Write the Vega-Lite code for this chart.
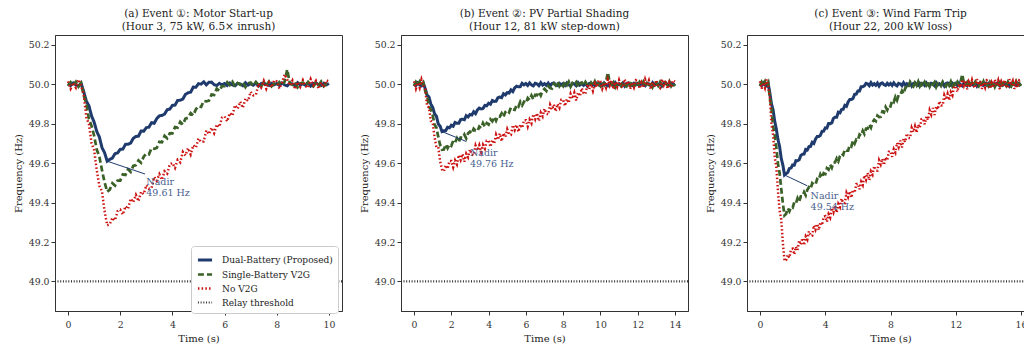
{
"$schema":"https://vega.github.io/schema/vega-lite/v6.json",
"padding":{"left":12,"top":8,"right":0,"bottom":0},
"bounds":"flush",
"spacing":59,
"datasets":{
"a":[
{"t":0.0,"d":50.004,"s":49.991,"n":50.015},{"t":0.1,"d":49.994,"s":50.011,"n":49.978},{"t":0.2,"d":50.007,"s":49.996,"n":50.008},{"t":0.3,"d":49.997,"s":50.013,"n":49.983},{"t":0.4,"d":49.992,"s":49.988,"n":50.024},{"t":0.5,"d":50.005,"s":50.006,"n":49.994},{"t":0.6,"d":49.963,"s":49.944,"n":49.948},{"t":0.7,"d":49.915,"s":49.902,"n":49.833},{"t":0.8,"d":49.891,"s":49.824,"n":49.798},{"t":0.9,"d":49.840,"s":49.789,"n":49.703},
{"t":1.0,"d":49.808,"s":49.739,"n":49.666},{"t":1.1,"d":49.761,"s":49.669,"n":49.565},{"t":1.2,"d":49.733,"s":49.634,"n":49.485},{"t":1.3,"d":49.679,"s":49.565,"n":49.458},{"t":1.4,"d":49.653,"s":49.503,"n":49.357},{"t":1.5,"d":49.610,"s":49.455,"n":49.285},{"t":1.6,"d":49.619,"s":49.466,"n":49.290},{"t":1.7,"d":49.626,"s":49.498,"n":49.323},{"t":1.8,"d":49.648,"s":49.486,"n":49.310},{"t":1.9,"d":49.652,"s":49.511,"n":49.357},
{"t":2.0,"d":49.670,"s":49.511,"n":49.364},{"t":2.1,"d":49.671,"s":49.543,"n":49.339},{"t":2.2,"d":49.695,"s":49.540,"n":49.381},{"t":2.3,"d":49.696,"s":49.569,"n":49.368},{"t":2.4,"d":49.702,"s":49.556,"n":49.420},{"t":2.5,"d":49.726,"s":49.586,"n":49.402},{"t":2.6,"d":49.735,"s":49.590,"n":49.439},{"t":2.7,"d":49.737,"s":49.614,"n":49.407},{"t":2.8,"d":49.763,"s":49.602,"n":49.455},{"t":2.9,"d":49.762,"s":49.633,"n":49.443},
{"t":3.0,"d":49.780,"s":49.649,"n":49.488},{"t":3.1,"d":49.783,"s":49.645,"n":49.470},{"t":3.2,"d":49.805,"s":49.676,"n":49.473},{"t":3.3,"d":49.802,"s":49.673,"n":49.529},{"t":3.4,"d":49.826,"s":49.677,"n":49.511},{"t":3.5,"d":49.840,"s":49.708,"n":49.544},{"t":3.6,"d":49.842,"s":49.706,"n":49.515},{"t":3.7,"d":49.849,"s":49.738,"n":49.559},{"t":3.8,"d":49.871,"s":49.726,"n":49.547},{"t":3.9,"d":49.874,"s":49.751,"n":49.594},
{"t":4.0,"d":49.893,"s":49.751,"n":49.601},{"t":4.1,"d":49.894,"s":49.783,"n":49.576},{"t":4.2,"d":49.918,"s":49.780,"n":49.617},{"t":4.3,"d":49.919,"s":49.809,"n":49.604},{"t":4.4,"d":49.925,"s":49.796,"n":49.657},{"t":4.5,"d":49.949,"s":49.826,"n":49.639},{"t":4.6,"d":49.957,"s":49.830,"n":49.676},{"t":4.7,"d":49.960,"s":49.854,"n":49.644},{"t":4.8,"d":49.986,"s":49.842,"n":49.691},{"t":4.9,"d":49.985,"s":49.873,"n":49.679},
{"t":5.0,"d":50.003,"s":49.889,"n":49.725},{"t":5.1,"d":50.001,"s":49.885,"n":49.707},{"t":5.2,"d":50.012,"s":49.916,"n":49.710},{"t":5.3,"d":49.997,"s":49.913,"n":49.766},{"t":5.4,"d":50.010,"s":49.917,"n":49.747},{"t":5.5,"d":50.011,"s":49.948,"n":49.780},{"t":5.6,"d":49.998,"s":49.946,"n":49.752},{"t":5.7,"d":49.994,"s":49.978,"n":49.796},{"t":5.8,"d":50.005,"s":49.966,"n":49.784},{"t":5.9,"d":49.997,"s":49.991,"n":49.831},
{"t":6.0,"d":50.004,"s":49.991,"n":49.837},{"t":6.1,"d":49.994,"s":50.011,"n":49.812},{"t":6.2,"d":50.007,"s":49.996,"n":49.854},{"t":6.3,"d":49.997,"s":50.013,"n":49.841},{"t":6.4,"d":49.992,"s":49.988,"n":49.894},{"t":6.5,"d":50.005,"s":50.006,"n":49.876},{"t":6.6,"d":50.002,"s":49.998,"n":49.912},{"t":6.7,"d":49.993,"s":50.010,"n":49.880},{"t":6.8,"d":50.008,"s":49.986,"n":49.928},{"t":6.9,"d":49.996,"s":50.005,"n":49.916},
{"t":7.0,"d":50.003,"s":50.009,"n":49.962},{"t":7.1,"d":49.995,"s":49.993,"n":49.944},{"t":7.2,"d":50.006,"s":50.012,"n":49.946},{"t":7.3,"d":49.991,"s":49.997,"n":50.002},{"t":7.4,"d":50.004,"s":49.989,"n":49.984},{"t":7.5,"d":50.007,"s":50.008,"n":50.017},{"t":7.6,"d":49.998,"s":49.994,"n":49.977},{"t":7.7,"d":49.994,"s":50.014,"n":50.009},{"t":7.8,"d":50.005,"s":49.990,"n":49.985},{"t":7.9,"d":49.997,"s":50.003,"n":50.020},
{"t":8.0,"d":50.004,"s":49.991,"n":50.015},{"t":8.1,"d":49.994,"s":50.011,"n":49.978},{"t":8.2,"d":50.007,"s":49.996,"n":50.008},{"t":8.3,"d":49.997,"s":50.013,"n":50.050},{"t":8.4,"d":49.992,"s":50.075,"n":50.024},{"t":8.5,"d":50.005,"s":50.006,"n":49.994},{"t":8.6,"d":50.002,"s":49.998,"n":50.019},{"t":8.7,"d":49.993,"s":50.010,"n":49.975},{"t":8.8,"d":50.008,"s":49.986,"n":50.011},{"t":8.9,"d":49.996,"s":50.005,"n":49.987},
{"t":9.0,"d":50.003,"s":50.009,"n":50.021},{"t":9.1,"d":49.995,"s":49.993,"n":49.991},{"t":9.2,"d":50.006,"s":50.012,"n":49.982},{"t":9.3,"d":49.991,"s":49.997,"n":50.026},{"t":9.4,"d":50.004,"s":49.989,"n":49.996},{"t":9.5,"d":50.007,"s":50.008,"n":50.017},{"t":9.6,"d":49.998,"s":49.994,"n":49.977},{"t":9.7,"d":49.994,"s":50.014,"n":50.009},{"t":9.8,"d":50.005,"s":49.990,"n":49.985},{"t":9.9,"d":49.997,"s":50.003,"n":50.020},
{"t":10.0,"d":50.004,"s":49.991,"n":50.015}
],
"b":[
{"t":0.0,"d":50.004,"s":49.991,"n":50.015},{"t":0.1,"d":49.994,"s":50.011,"n":49.978},{"t":0.2,"d":50.007,"s":49.996,"n":50.008},{"t":0.3,"d":49.997,"s":50.013,"n":49.983},{"t":0.4,"d":49.992,"s":49.988,"n":50.024},{"t":0.5,"d":50.005,"s":50.006,"n":49.994},{"t":0.6,"d":49.978,"s":49.965,"n":49.976},{"t":0.7,"d":49.945,"s":49.944,"n":49.889},{"t":0.8,"d":49.936,"s":49.887,"n":49.882},{"t":0.9,"d":49.900,"s":49.873,"n":49.815},
{"t":1.0,"d":49.883,"s":49.844,"n":49.806},{"t":1.1,"d":49.851,"s":49.795,"n":49.733},{"t":1.2,"d":49.838,"s":49.781,"n":49.681},{"t":1.3,"d":49.799,"s":49.733,"n":49.682},{"t":1.4,"d":49.788,"s":49.692,"n":49.609},{"t":1.5,"d":49.760,"s":49.668,"n":49.568},{"t":1.6,"d":49.764,"s":49.669,"n":49.558},{"t":1.7,"d":49.765,"s":49.695,"n":49.589},{"t":1.8,"d":49.782,"s":49.676,"n":49.571},{"t":1.9,"d":49.779,"s":49.695,"n":49.611},
{"t":2.0,"d":49.792,"s":49.688,"n":49.611},{"t":2.1,"d":49.787,"s":49.713,"n":49.579},{"t":2.2,"d":49.806,"s":49.704,"n":49.614},{"t":2.3,"d":49.802,"s":49.726,"n":49.594},{"t":2.4,"d":49.802,"s":49.707,"n":49.641},{"t":2.5,"d":49.821,"s":49.730,"n":49.616},{"t":2.6,"d":49.823,"s":49.728,"n":49.646},{"t":2.7,"d":49.820,"s":49.745,"n":49.607},{"t":2.8,"d":49.841,"s":49.726,"n":49.648},{"t":2.9,"d":49.834,"s":49.751,"n":49.630},
{"t":3.0,"d":49.847,"s":49.760,"n":49.669},{"t":3.1,"d":49.844,"s":49.750,"n":49.644},{"t":3.2,"d":49.861,"s":49.774,"n":49.640},{"t":3.3,"d":49.851,"s":49.764,"n":49.689},{"t":3.4,"d":49.870,"s":49.762,"n":49.664},{"t":3.5,"d":49.879,"s":49.786,"n":49.691},{"t":3.6,"d":49.875,"s":49.778,"n":49.656},{"t":3.7,"d":49.877,"s":49.803,"n":49.693},{"t":3.8,"d":49.893,"s":49.784,"n":49.674},{"t":3.9,"d":49.891,"s":49.803,"n":49.714},
{"t":4.0,"d":49.904,"s":49.796,"n":49.715},{"t":4.1,"d":49.899,"s":49.822,"n":49.683},{"t":4.2,"d":49.918,"s":49.812,"n":49.718},{"t":4.3,"d":49.913,"s":49.834,"n":49.698},{"t":4.4,"d":49.914,"s":49.815,"n":49.744},{"t":4.5,"d":49.932,"s":49.838,"n":49.719},{"t":4.6,"d":49.935,"s":49.836,"n":49.750},{"t":4.7,"d":49.932,"s":49.853,"n":49.711},{"t":4.8,"d":49.952,"s":49.835,"n":49.752},{"t":4.9,"d":49.946,"s":49.859,"n":49.733},
{"t":5.0,"d":49.958,"s":49.868,"n":49.772},{"t":5.1,"d":49.956,"s":49.858,"n":49.747},{"t":5.2,"d":49.972,"s":49.882,"n":49.744},{"t":5.3,"d":49.963,"s":49.873,"n":49.793},{"t":5.4,"d":49.982,"s":49.870,"n":49.768},{"t":5.5,"d":49.990,"s":49.894,"n":49.794},{"t":5.6,"d":49.987,"s":49.886,"n":49.759},{"t":5.7,"d":49.988,"s":49.911,"n":49.796},{"t":5.8,"d":50.005,"s":49.893,"n":49.778},{"t":5.9,"d":49.997,"s":49.911,"n":49.818},
{"t":6.0,"d":50.004,"s":49.904,"n":49.818},{"t":6.1,"d":49.994,"s":49.930,"n":49.786},{"t":6.2,"d":50.007,"s":49.920,"n":49.821},{"t":6.3,"d":49.997,"s":49.943,"n":49.802},{"t":6.4,"d":49.992,"s":49.923,"n":49.848},{"t":6.5,"d":50.005,"s":49.946,"n":49.823},{"t":6.6,"d":50.002,"s":49.944,"n":49.853},{"t":6.7,"d":49.993,"s":49.961,"n":49.814},{"t":6.8,"d":50.008,"s":49.943,"n":49.856},{"t":6.9,"d":49.996,"s":49.967,"n":49.837},
{"t":7.0,"d":50.003,"s":49.977,"n":49.876},{"t":7.1,"d":49.995,"s":49.966,"n":49.851},{"t":7.2,"d":50.006,"s":49.990,"n":49.847},{"t":7.3,"d":49.991,"s":49.981,"n":49.896},{"t":7.4,"d":50.004,"s":49.978,"n":49.872},{"t":7.5,"d":50.007,"s":50.003,"n":49.898},{"t":7.6,"d":49.998,"s":49.994,"n":49.863},{"t":7.7,"d":49.994,"s":50.014,"n":49.900},{"t":7.8,"d":50.005,"s":49.990,"n":49.881},{"t":7.9,"d":49.997,"s":50.003,"n":49.922},
{"t":8.0,"d":50.004,"s":49.991,"n":49.922},{"t":8.1,"d":49.994,"s":50.011,"n":49.890},{"t":8.2,"d":50.007,"s":49.996,"n":49.925},{"t":8.3,"d":49.997,"s":50.013,"n":49.905},{"t":8.4,"d":49.992,"s":49.988,"n":49.951},{"t":8.5,"d":50.005,"s":50.006,"n":49.927},{"t":8.6,"d":50.002,"s":49.998,"n":49.957},{"t":8.7,"d":49.993,"s":50.010,"n":49.918},{"t":8.8,"d":50.008,"s":49.986,"n":49.959},{"t":8.9,"d":49.996,"s":50.005,"n":49.940},
{"t":9.0,"d":50.003,"s":50.009,"n":49.980},{"t":9.1,"d":49.995,"s":49.993,"n":49.955},{"t":9.2,"d":50.006,"s":50.012,"n":49.951},{"t":9.3,"d":49.991,"s":49.997,"n":50.000},{"t":9.4,"d":50.004,"s":49.989,"n":49.975},{"t":9.5,"d":50.007,"s":50.008,"n":50.001},{"t":9.6,"d":49.998,"s":49.994,"n":49.967},{"t":9.7,"d":49.994,"s":50.014,"n":50.004},{"t":9.8,"d":50.005,"s":49.990,"n":49.985},{"t":9.9,"d":49.997,"s":50.003,"n":50.020},
{"t":10.0,"d":50.004,"s":49.991,"n":50.015},{"t":10.1,"d":49.994,"s":50.011,"n":49.978},{"t":10.2,"d":50.007,"s":49.996,"n":50.008},{"t":10.3,"d":49.997,"s":50.013,"n":49.983},{"t":10.4,"d":49.992,"s":50.060,"n":50.024},{"t":10.5,"d":50.005,"s":50.006,"n":49.994},{"t":10.6,"d":50.002,"s":49.998,"n":50.019},{"t":10.7,"d":49.993,"s":50.010,"n":49.975},{"t":10.8,"d":50.008,"s":49.986,"n":50.011},{"t":10.9,"d":49.996,"s":50.005,"n":49.987},
{"t":11.0,"d":50.003,"s":50.009,"n":50.021},{"t":11.1,"d":49.995,"s":49.993,"n":49.991},{"t":11.2,"d":50.006,"s":50.012,"n":49.982},{"t":11.3,"d":49.991,"s":49.997,"n":50.026},{"t":11.4,"d":50.004,"s":49.989,"n":49.996},{"t":11.5,"d":50.007,"s":50.008,"n":50.017},{"t":11.6,"d":49.998,"s":49.994,"n":49.977},{"t":11.7,"d":49.994,"s":50.014,"n":50.009},{"t":11.8,"d":50.005,"s":49.990,"n":49.985},{"t":11.9,"d":49.997,"s":50.003,"n":50.020},
{"t":12.0,"d":50.004,"s":49.991,"n":50.015},{"t":12.1,"d":49.994,"s":50.011,"n":49.978},{"t":12.2,"d":50.007,"s":49.996,"n":50.008},{"t":12.3,"d":49.997,"s":50.013,"n":49.983},{"t":12.4,"d":49.992,"s":49.988,"n":50.024},{"t":12.5,"d":50.005,"s":50.006,"n":49.994},{"t":12.6,"d":50.002,"s":49.998,"n":50.019},{"t":12.7,"d":49.993,"s":50.010,"n":49.975},{"t":12.8,"d":50.008,"s":49.986,"n":50.011},{"t":12.9,"d":49.996,"s":50.005,"n":49.987},
{"t":13.0,"d":50.003,"s":50.009,"n":50.021},{"t":13.1,"d":49.995,"s":49.993,"n":49.991},{"t":13.2,"d":50.006,"s":50.012,"n":49.982},{"t":13.3,"d":49.991,"s":49.997,"n":50.026},{"t":13.4,"d":50.004,"s":49.989,"n":49.996},{"t":13.5,"d":50.007,"s":50.008,"n":50.017},{"t":13.6,"d":49.998,"s":49.994,"n":49.977},{"t":13.7,"d":49.994,"s":50.014,"n":50.009},{"t":13.8,"d":50.005,"s":49.990,"n":49.985},{"t":13.9,"d":49.997,"s":50.003,"n":50.020},
{"t":14.0,"d":50.004,"s":49.991,"n":50.015}
],
"c":[
{"t":0.0,"d":50.004,"s":49.991,"n":50.015},{"t":0.1,"d":49.994,"s":50.011,"n":49.978},{"t":0.2,"d":50.007,"s":49.996,"n":50.008},{"t":0.3,"d":49.997,"s":50.013,"n":49.983},{"t":0.4,"d":49.992,"s":49.988,"n":50.024},{"t":0.5,"d":50.005,"s":50.006,"n":49.994},{"t":0.6,"d":49.956,"s":49.932,"n":49.930},{"t":0.7,"d":49.901,"s":49.878,"n":49.797},{"t":0.8,"d":49.870,"s":49.788,"n":49.744},{"t":0.9,"d":49.812,"s":49.741,"n":49.631},
{"t":1.0,"d":49.773,"s":49.679,"n":49.576},{"t":1.1,"d":49.719,"s":49.597,"n":49.457},{"t":1.2,"d":49.684,"s":49.550,"n":49.359},{"t":1.3,"d":49.623,"s":49.469,"n":49.314},{"t":1.4,"d":49.590,"s":49.395,"n":49.195},{"t":1.5,"d":49.540,"s":49.335,"n":49.105},{"t":1.6,"d":49.547,"s":49.343,"n":49.108},{"t":1.7,"d":49.553,"s":49.371,"n":49.135},{"t":1.8,"d":49.573,"s":49.356,"n":49.120},{"t":1.9,"d":49.575,"s":49.377,"n":49.163},
{"t":2.0,"d":49.591,"s":49.374,"n":49.166},{"t":2.1,"d":49.590,"s":49.402,"n":49.137},{"t":2.2,"d":49.613,"s":49.396,"n":49.176},{"t":2.3,"d":49.612,"s":49.422,"n":49.159},{"t":2.4,"d":49.617,"s":49.405,"n":49.208},{"t":2.5,"d":49.639,"s":49.432,"n":49.186},{"t":2.6,"d":49.645,"s":49.432,"n":49.220},{"t":2.7,"d":49.646,"s":49.453,"n":49.184},{"t":2.8,"d":49.670,"s":49.437,"n":49.228},{"t":2.9,"d":49.667,"s":49.465,"n":49.212},
{"t":3.0,"d":49.684,"s":49.478,"n":49.255},{"t":3.1,"d":49.685,"s":49.470,"n":49.233},{"t":3.2,"d":49.706,"s":49.498,"n":49.232},{"t":3.3,"d":49.700,"s":49.491,"n":49.284},{"t":3.4,"d":49.722,"s":49.492,"n":49.263},{"t":3.5,"d":49.735,"s":49.519,"n":49.292},{"t":3.6,"d":49.735,"s":49.514,"n":49.260},{"t":3.7,"d":49.741,"s":49.543,"n":49.300},{"t":3.8,"d":49.761,"s":49.527,"n":49.285},{"t":3.9,"d":49.762,"s":49.549,"n":49.328},
{"t":4.0,"d":49.779,"s":49.545,"n":49.331},{"t":4.1,"d":49.778,"s":49.574,"n":49.302},{"t":4.2,"d":49.801,"s":49.567,"n":49.341},{"t":4.3,"d":49.800,"s":49.593,"n":49.324},{"t":4.4,"d":49.804,"s":49.577,"n":49.373},{"t":4.5,"d":49.827,"s":49.603,"n":49.351},{"t":4.6,"d":49.833,"s":49.604,"n":49.385},{"t":4.7,"d":49.833,"s":49.624,"n":49.349},{"t":4.8,"d":49.858,"s":49.609,"n":49.393},{"t":4.9,"d":49.855,"s":49.636,"n":49.377},
{"t":5.0,"d":49.872,"s":49.649,"n":49.420},{"t":5.1,"d":49.873,"s":49.642,"n":49.398},{"t":5.2,"d":49.893,"s":49.669,"n":49.397},{"t":5.3,"d":49.888,"s":49.663,"n":49.449},{"t":5.4,"d":49.910,"s":49.663,"n":49.428},{"t":5.5,"d":49.923,"s":49.691,"n":49.457},{"t":5.6,"d":49.923,"s":49.685,"n":49.425},{"t":5.7,"d":49.928,"s":49.714,"n":49.465},{"t":5.8,"d":49.949,"s":49.699,"n":49.450},{"t":5.9,"d":49.950,"s":49.720,"n":49.493},
{"t":6.0,"d":49.966,"s":49.717,"n":49.496},{"t":6.1,"d":49.966,"s":49.745,"n":49.467},{"t":6.2,"d":49.988,"s":49.739,"n":49.506},{"t":6.3,"d":49.988,"s":49.764,"n":49.489},{"t":6.4,"d":49.992,"s":49.748,"n":49.538},{"t":6.5,"d":50.005,"s":49.775,"n":49.516},{"t":6.6,"d":50.002,"s":49.775,"n":49.550},{"t":6.7,"d":49.993,"s":49.796,"n":49.514},{"t":6.8,"d":50.008,"s":49.780,"n":49.558},{"t":6.9,"d":49.996,"s":49.808,"n":49.542},
{"t":7.0,"d":50.003,"s":49.820,"n":49.585},{"t":7.1,"d":49.995,"s":49.813,"n":49.563},{"t":7.2,"d":50.006,"s":49.841,"n":49.562},{"t":7.3,"d":49.991,"s":49.834,"n":49.614},{"t":7.4,"d":50.004,"s":49.835,"n":49.593},{"t":7.5,"d":50.007,"s":49.862,"n":49.622},{"t":7.6,"d":49.998,"s":49.857,"n":49.590},{"t":7.7,"d":49.994,"s":49.885,"n":49.630},{"t":7.8,"d":50.005,"s":49.870,"n":49.615},{"t":7.9,"d":49.997,"s":49.892,"n":49.658},
{"t":8.0,"d":50.004,"s":49.888,"n":49.661},{"t":8.1,"d":49.994,"s":49.917,"n":49.632},{"t":8.2,"d":50.007,"s":49.910,"n":49.671},{"t":8.3,"d":49.997,"s":49.936,"n":49.654},{"t":8.4,"d":49.992,"s":49.919,"n":49.703},{"t":8.5,"d":50.005,"s":49.946,"n":49.681},{"t":8.6,"d":50.002,"s":49.947,"n":49.715},{"t":8.7,"d":49.993,"s":49.967,"n":49.679},{"t":8.8,"d":50.008,"s":49.952,"n":49.723},{"t":8.9,"d":49.996,"s":49.979,"n":49.707},
{"t":9.0,"d":50.003,"s":49.992,"n":49.750},{"t":9.1,"d":49.995,"s":49.984,"n":49.728},{"t":9.2,"d":50.006,"s":50.012,"n":49.727},{"t":9.3,"d":49.991,"s":49.997,"n":49.779},{"t":9.4,"d":50.004,"s":49.989,"n":49.758},{"t":9.5,"d":50.007,"s":50.008,"n":49.787},{"t":9.6,"d":49.998,"s":49.994,"n":49.755},{"t":9.7,"d":49.994,"s":50.014,"n":49.795},{"t":9.8,"d":50.005,"s":49.990,"n":49.780},{"t":9.9,"d":49.997,"s":50.003,"n":49.823},
{"t":10.0,"d":50.004,"s":49.991,"n":49.826},{"t":10.1,"d":49.994,"s":50.011,"n":49.797},{"t":10.2,"d":50.007,"s":49.996,"n":49.836},{"t":10.3,"d":49.997,"s":50.013,"n":49.819},{"t":10.4,"d":49.992,"s":49.988,"n":49.868},{"t":10.5,"d":50.005,"s":50.006,"n":49.846},{"t":10.6,"d":50.002,"s":49.998,"n":49.880},{"t":10.7,"d":49.993,"s":50.010,"n":49.844},{"t":10.8,"d":50.008,"s":49.986,"n":49.888},{"t":10.9,"d":49.996,"s":50.005,"n":49.872},
{"t":11.0,"d":50.003,"s":50.009,"n":49.914},{"t":11.1,"d":49.995,"s":49.993,"n":49.893},{"t":11.2,"d":50.006,"s":50.012,"n":49.892},{"t":11.3,"d":49.991,"s":49.997,"n":49.944},{"t":11.4,"d":50.004,"s":49.989,"n":49.922},{"t":11.5,"d":50.007,"s":50.008,"n":49.951},{"t":11.6,"d":49.998,"s":49.994,"n":49.919},{"t":11.7,"d":49.994,"s":50.014,"n":49.960},{"t":11.8,"d":50.005,"s":49.990,"n":49.944},{"t":11.9,"d":49.997,"s":50.003,"n":49.987},
{"t":12.0,"d":50.004,"s":49.991,"n":49.990},{"t":12.1,"d":49.994,"s":50.011,"n":49.962},{"t":12.2,"d":50.007,"s":49.996,"n":50.000},{"t":12.3,"d":49.997,"s":50.013,"n":49.983},{"t":12.4,"d":49.992,"s":50.050,"n":50.024},{"t":12.5,"d":50.005,"s":50.006,"n":49.994},{"t":12.6,"d":50.002,"s":49.998,"n":50.019},{"t":12.7,"d":49.993,"s":50.010,"n":49.975},{"t":12.8,"d":50.008,"s":49.986,"n":50.011},{"t":12.9,"d":49.996,"s":50.005,"n":49.987},
{"t":13.0,"d":50.003,"s":50.009,"n":50.021},{"t":13.1,"d":49.995,"s":49.993,"n":49.991},{"t":13.2,"d":50.006,"s":50.012,"n":49.982},{"t":13.3,"d":49.991,"s":49.997,"n":50.026},{"t":13.4,"d":50.004,"s":49.989,"n":49.996},{"t":13.5,"d":50.007,"s":50.008,"n":50.017},{"t":13.6,"d":49.998,"s":49.994,"n":49.977},{"t":13.7,"d":49.994,"s":50.014,"n":50.009},{"t":13.8,"d":50.005,"s":49.990,"n":49.985},{"t":13.9,"d":49.997,"s":50.003,"n":50.020},
{"t":14.0,"d":50.004,"s":49.991,"n":50.015},{"t":14.1,"d":49.994,"s":50.011,"n":49.978},{"t":14.2,"d":50.007,"s":49.996,"n":50.008},{"t":14.3,"d":49.997,"s":50.013,"n":49.983},{"t":14.4,"d":49.992,"s":49.988,"n":50.024},{"t":14.5,"d":50.005,"s":50.006,"n":49.994},{"t":14.6,"d":50.002,"s":49.998,"n":50.019},{"t":14.7,"d":49.993,"s":50.010,"n":49.975},{"t":14.8,"d":50.008,"s":49.986,"n":50.011},{"t":14.9,"d":49.996,"s":50.005,"n":49.987},
{"t":15.0,"d":50.003,"s":50.009,"n":50.021},{"t":15.1,"d":49.995,"s":49.993,"n":49.991},{"t":15.2,"d":50.006,"s":50.012,"n":49.982},{"t":15.3,"d":49.991,"s":49.997,"n":50.026},{"t":15.4,"d":50.004,"s":49.989,"n":49.996},{"t":15.5,"d":50.007,"s":50.008,"n":50.017},{"t":15.6,"d":49.998,"s":49.994,"n":49.977},{"t":15.7,"d":49.994,"s":50.014,"n":50.009},{"t":15.8,"d":50.005,"s":49.990,"n":49.985},{"t":15.9,"d":49.997,"s":50.003,"n":50.020},
{"t":16.0,"d":50.004,"s":49.991,"n":50.015}
]
},
"hconcat":[
{"width":287,"height":276,
 "title":{"text":["(a) Event ①: Motor Start-up","(Hour 3, 75 kW, 6.5× inrush)"]},
 "layer":[
  {"data":{"name":"a"},"transform":[{"fold":["d","s","n"],"as":["key","f"]}],
   "mark":{"type":"line","clip":true},
   "encoding":{
    "x":{"field":"t","type":"quantitative","scale":{"domain":[-0.5,10.5],"nice":false,"zero":false},"axis":{"values":[0,2,4,6,8,10],"title":"Time (s)"}},
    "y":{"field":"f","type":"quantitative","scale":{"domain":[48.85,50.25],"nice":false,"zero":false},"axis":{"values":[49,49.2,49.4,49.6,49.8,50,50.2],"format":".1f","title":"Frequency (Hz)"}},
    "color":{"field":"key","type":"ordinal","scale":{"domain":["d","s","n","r"],"range":["#1f3b6e","#3a6127","#cc1111","#333333"]},
      "legend":{"orient":"none","legendX":136,"legendY":211,"title":null,"labelExpr":"datum.label=='d'?'Dual-Battery (Proposed)':datum.label=='s'?'Single-Battery V2G':datum.label=='n'?'No V2G':'Relay threshold'"}},
    "strokeDash":{"field":"key","type":"ordinal","scale":{"domain":["d","s","n","r"],"range":[[1,0],[6,3],[1.5,2.2],[1,1.7]]}},
    "strokeWidth":{"field":"key","type":"ordinal","scale":{"domain":["d","s","n","r"],"range":[3,2.2,2,1]}}
   }},
  {"data":{"values":[{"key":"r","f":49}]},"mark":"rule",
   "encoding":{"y":{"field":"f","type":"quantitative"},
    "color":{"field":"key","type":"ordinal"},"strokeDash":{"field":"key","type":"ordinal"},"strokeWidth":{"field":"key","type":"ordinal"}}},
  {"data":{"values":[{"t":1.5,"f":49.61,"t2":2.95,"f2":49.545}]},"mark":{"type":"rule","color":"#1f3b6e","strokeWidth":1},
   "encoding":{"x":{"field":"t","type":"quantitative"},"y":{"field":"f","type":"quantitative"},"x2":{"field":"t2"},"y2":{"field":"f2"}}},
  {"data":{"values":[{"t":3.0,"f":49.504,"label":"Nadir\n49.61 Hz"}]},"mark":{"type":"text","align":"left","baseline":"middle","lineBreak":"\n","fontSize":9.5,"color":"#4a5f8f","lineHeight":11},
   "encoding":{"x":{"field":"t","type":"quantitative"},"y":{"field":"f","type":"quantitative"},"text":{"field":"label"}}}
 ]},
{"width":287,"height":276,
 "title":{"text":["(b) Event ②: PV Partial Shading","(Hour 12, 81 kW step-down)"]},
 "layer":[
  {"data":{"name":"b"},"transform":[{"fold":["d","s","n"],"as":["key","f"]}],
   "mark":{"type":"line","clip":true},
   "encoding":{
    "x":{"field":"t","type":"quantitative","scale":{"domain":[-0.7,14.7],"nice":false,"zero":false},"axis":{"values":[0,2,4,6,8,10,12,14],"title":"Time (s)"}},
    "y":{"field":"f","type":"quantitative","scale":{"domain":[48.85,50.25],"nice":false,"zero":false},"axis":{"values":[49,49.2,49.4,49.6,49.8,50,50.2],"format":".1f","title":"Frequency (Hz)"}},
    "color":{"field":"key","type":"ordinal","scale":{"domain":["d","s","n","r"],"range":["#1f3b6e","#3a6127","#cc1111","#333333"]},"legend":null},
    "strokeDash":{"field":"key","type":"ordinal","scale":{"domain":["d","s","n","r"],"range":[[1,0],[6,3],[1.5,2.2],[1,1.7]]},"legend":null},
    "strokeWidth":{"field":"key","type":"ordinal","scale":{"domain":["d","s","n","r"],"range":[3,2.2,2,1]},"legend":null}
   }},
  {"data":{"values":[{"key":"r","f":49}]},"mark":"rule",
   "encoding":{"y":{"field":"f","type":"quantitative"},
    "color":{"field":"key","type":"ordinal","legend":null},"strokeDash":{"field":"key","type":"ordinal","legend":null},"strokeWidth":{"field":"key","type":"ordinal","legend":null}}},
  {"data":{"values":[{"t":1.5,"f":49.76,"t2":2.8,"f2":49.71}]},"mark":{"type":"rule","color":"#1f3b6e","strokeWidth":1},
   "encoding":{"x":{"field":"t","type":"quantitative"},"y":{"field":"f","type":"quantitative"},"x2":{"field":"t2"},"y2":{"field":"f2"}}},
  {"data":{"values":[{"t":3.0,"f":49.653,"label":"Nadir\n49.76 Hz"}]},"mark":{"type":"text","align":"left","baseline":"middle","lineBreak":"\n","fontSize":9.5,"color":"#4a5f8f","lineHeight":11},
   "encoding":{"x":{"field":"t","type":"quantitative"},"y":{"field":"f","type":"quantitative"},"text":{"field":"label"}}}
 ]},
{"width":287,"height":276,
 "title":{"text":["(c) Event ③: Wind Farm Trip","(Hour 22, 200 kW loss)"]},
 "layer":[
  {"data":{"name":"c"},"transform":[{"fold":["d","s","n"],"as":["key","f"]}],
   "mark":{"type":"line","clip":true},
   "encoding":{
    "x":{"field":"t","type":"quantitative","scale":{"domain":[-0.8,16.8],"nice":false,"zero":false},"axis":{"values":[0,2,4,6,8,10,12,14,16],"title":"Time (s)"}},
    "y":{"field":"f","type":"quantitative","scale":{"domain":[48.85,50.25],"nice":false,"zero":false},"axis":{"values":[49,49.2,49.4,49.6,49.8,50,50.2],"format":".1f","title":"Frequency (Hz)"}},
    "color":{"field":"key","type":"ordinal","scale":{"domain":["d","s","n","r"],"range":["#1f3b6e","#3a6127","#cc1111","#333333"]},"legend":null},
    "strokeDash":{"field":"key","type":"ordinal","scale":{"domain":["d","s","n","r"],"range":[[1,0],[6,3],[1.5,2.2],[1,1.7]]},"legend":null},
    "strokeWidth":{"field":"key","type":"ordinal","scale":{"domain":["d","s","n","r"],"range":[3,2.2,2,1]},"legend":null}
   }},
  {"data":{"values":[{"key":"r","f":49}]},"mark":"rule",
   "encoding":{"y":{"field":"f","type":"quantitative"},
    "color":{"field":"key","type":"ordinal","legend":null},"strokeDash":{"field":"key","type":"ordinal","legend":null},"strokeWidth":{"field":"key","type":"ordinal","legend":null}}},
  {"data":{"values":[{"t":1.5,"f":49.54,"t2":2.9,"f2":49.485}]},"mark":{"type":"rule","color":"#1f3b6e","strokeWidth":1},
   "encoding":{"x":{"field":"t","type":"quantitative"},"y":{"field":"f","type":"quantitative"},"x2":{"field":"t2"},"y2":{"field":"f2"}}},
  {"data":{"values":[{"t":3.1,"f":49.434,"label":"Nadir\n49.54 Hz"}]},"mark":{"type":"text","align":"left","baseline":"middle","lineBreak":"\n","fontSize":9.5,"color":"#4a5f8f","lineHeight":11},
   "encoding":{"x":{"field":"t","type":"quantitative"},"y":{"field":"f","type":"quantitative"},"text":{"field":"label"}}}
 ]}
],
"resolve":{"scale":{"x":"independent","y":"independent","color":"independent","strokeDash":"independent","strokeWidth":"independent"},"legend":{"color":"independent","strokeDash":"independent","strokeWidth":"independent"}},
"config":{
 "font":"DejaVu Serif",
 "view":{"stroke":"#333333","strokeWidth":1},
 "axis":{"grid":false,"domainColor":"#333333","tickColor":"#333333","labelColor":"#333333","titleColor":"#222222","labelFontSize":9.3,"titleFontSize":10,"titleFontWeight":"normal","tickSize":4,"labelPadding":2,"titlePadding":5},
 "axisX":{"labelAngle":0,"labelPadding":5,"titlePadding":4,"labelOverlap":false},
 "title":{"fontSize":10.5,"fontWeight":"normal","color":"#222222","offset":3,"lineHeight":13},
 "legend":{"symbolType":"stroke","symbolSize":200,"labelFontSize":9,"labelColor":"#222222","padding":5,"rowPadding":0,"strokeColor":"#cccccc","fillColor":"#ffffff","cornerRadius":3,"labelOffset":8}
}
}
